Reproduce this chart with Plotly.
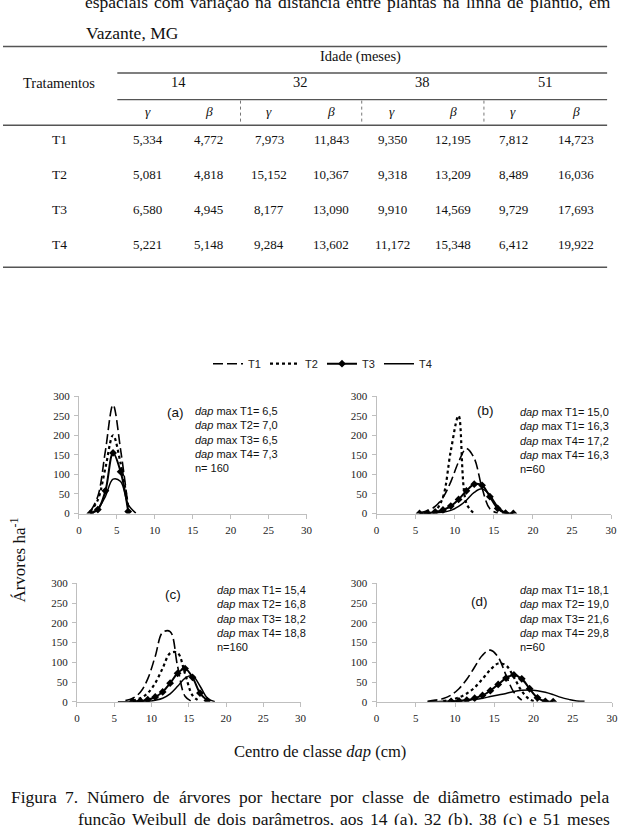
import unicodedata
import plotly.graph_objects as go

W, H = 621, 825

# ---------------- table data ----------------
ages = ["14", "32", "38", "51"]
treatments = ["T1", "T2", "T3", "T4"]
gamma_14 = [5.334, 5.081, 6.580, 5.221]
beta_14 = [4.772, 4.818, 4.945, 5.148]
gamma_32 = [7.973, 15.152, 8.177, 9.284]
beta_32 = [11.843, 10.367, 13.090, 13.602]
gamma_38 = [9.350, 9.318, 9.910, 11.172]
beta_38 = [12.195, 13.209, 14.569, 15.348]
gamma_51 = [7.812, 8.489, 9.729, 6.412]
beta_51 = [14.723, 16.036, 17.693, 19.922]

# ---------------- curve data (trees/ha per dbh class) ----------------
classes_a = [1.5, 2.5, 3.5, 4.5, 5.5, 6.5, 7.5]
a_T1 = [5, 44, 161, 278, 163, 16, None]
a_T2 = [5, 35, 117, 200, 128, 18, None]
a_T3 = [0, 10, 58, 155, 107, 5, None]
a_T4 = [1, 12, 44, 88, 82, 23, 1]

classes_b = [5.5, 6.5, 7.5, 8.5, 9.5, 10.5, 11.5, 12.5, 13.5, 14.5, 15.5, 16.5, 17.5]
b_T1 = [2, 7, 18, 41, 81, 132, 166, 141, 65, 12, 1, None, None]
b_T2 = [None, 1, 7, 42, 160, 250, 26, 0, None, None, None, None, None]
b_T3 = [0, 1, 4, 9, 19, 36, 58, 75, 72, 43, 13, 1, 0]
b_T4 = [0, 0, 1, 3, 8, 18, 34, 54, 63, 47, 18, 2, 0]

classes_c = [5.5, 6.5, 7.5, 8.5, 9.5, 10.5, 11.5, 12.5, 13.5, 14.5, 15.5, 16.5, 17.5, 18.5]
c_T1 = [None, 3, 9, 24, 58, 115, 176, 178, 90, 14, 0, None, None, None]
c_T2 = [None, None, 3, 9, 22, 47, 85, 123, 124, 71, 16, 1, None, None]
c_T3 = [None, None, 1, 2, 5, 12, 25, 47, 72, 84, 62, 22, 3, None]
c_T4 = [0, 0, 0, 0, 1, 4, 9, 20, 39, 60, 66, 40, 9, 0]

classes_d = [6.5, 7.5, 8.5, 9.5, 10.5, 11.5, 12.5, 13.5, 14.5, 15.5, 16.5,
             17.5, 18.5, 19.5, 20.5, 21.5, 22.5, 23.5, 24.5, 25.5, 26.5]
d_T1 = [1, 4, 8, 17, 33, 57, 88, 118, 131, 113, 67, 24, 4,
        None, None, None, None, None, None, None, None]
d_T2 = [None, None, 2, 5, 11, 21, 36, 58, 81, 97, 92, 62, 27, 6, 0,
        None, None, None, None, None, None]
d_T3 = [None, None, None, 1, 2, 4, 9, 16, 28, 44, 60, 68, 58, 33, 10, 1, 0,
        None, None, None, None]
d_T4 = [0, 0, 1, 1, 2, 4, 6, 9, 13, 17, 21, 26, 29, 30, 28, 24, 18, 11, 6, 2, 1]

panel_labels = ["(a)", "(b)", "(c)", "(d)"]
dapmax_a = ["T1= 6,5", "T2= 7,0", "T3= 6,5", "T4= 7,3"]
dapmax_b = ["T1= 15,0", "T1= 16,3", "T4= 17,2", "T4= 16,3"]
dapmax_c = ["T1= 15,4", "T2= 16,8", "T3= 18,2", "T4= 18,8"]
dapmax_d = ["T1= 18,1", "T2= 19,0", "T3= 21,6", "T4= 29,8"]
n_labels = ["n= 160", "n=60", "n=160", "n=60"]

# ---------------- helpers ----------------
def px(x):
    return x / W


def py(y):
    return 1 - y / H


SERIF = "Liberation Serif"
SANS = "Liberation Sans"
annotations = []
shapes = []


def ann(text, x, y, size, family=SERIF, xanchor="center", yanchor="middle", **kw):
    d = dict(text=text, x=px(x), y=py(y), xref="paper", yref="paper",
             xanchor=xanchor, yanchor=yanchor, showarrow=False,
             font=dict(family=family, size=size, color=kw.pop("color", "#111")))
    d.update(kw)
    annotations.append(d)


def hline(x0, x1, y, width=1.3, color="#555", dash="solid"):
    shapes.append(dict(type="line", xref="paper", yref="paper",
                       x0=px(x0), x1=px(x1), y0=py(y), y1=py(y),
                       line=dict(color=color, width=width, dash=dash)))


def vline(x, y0, y1, width=1, color="#777", dash="dot"):
    shapes.append(dict(type="line", xref="paper", yref="paper",
                       x0=px(x), x1=px(x), y0=py(y0), y1=py(y1),
                       line=dict(color=color, width=width, dash=dash)))


TW = {' ': 250, 'a': 444, 'b': 500, 'c': 444, 'd': 500, 'e': 444, 'f': 333, 'g': 500,
      'h': 500, 'i': 278, 'j': 278, 'k': 500, 'l': 278, 'm': 778, 'n': 500, 'o': 500,
      'p': 500, 'q': 500, 'r': 333, 's': 389, 't': 278, 'u': 500, 'v': 500, 'w': 722,
      'x': 500, 'y': 500, 'z': 444, ',': 250, '.': 250, '(': 333, ')': 333,
      'F': 556, 'N': 722, 'W': 944, 'V': 722, 'M': 889, 'G': 722}


def tw(word, size):
    s = 0
    for ch in word:
        base = unicodedata.normalize("NFD", ch)[0]
        if base.isdigit():
            s += 500
        else:
            s += TW.get(base, 500)
    return s * size / 1000.0


def justified(line, x0, x1, y, size):
    words = line.split()
    widths = [tw(w, size) for w in words]
    gap = (x1 - x0 - sum(widths)) / (len(words) - 1)
    x = x0
    for w, wd in zip(words, widths):
        ann(w, x, y, size, xanchor="left", borderpad=0)
        x += wd + gap


# ---------------- page text ----------------
justified("espaciais com variação na distância entre plantas na linha de plantio, em",
          82, 615, -4, 17.5)
ann("Vazante, MG", 82, 27, 17.5, xanchor="left")

# ---------------- table ----------------
col_x = [147, 209, 270, 333, 395, 457, 518, 581]
age_x = [178, 302, 426, 550]
row_y = [135, 171, 207, 242]
hline(0, 613, 41, 1.5)
hline(116, 613, 68, 1.3)
hline(116, 613, 95, 1.3)
hline(0, 613, 121, 1.5)
hline(0, 613, 265, 1.5)
for sx in [241, 364, 488]:
    vline(sx, 96, 120)

ann("Idade (meses)", 363, 51, 14.5)
ann("Tratamentos", 57, 78, 14.5)
for a, x in zip(ages, age_x):
    ann(a, x, 77, 14.5)
for i, x in enumerate(col_x):
    ann("<i>γ</i>" if i % 2 == 0 else "<i>β</i>", x, 107, 13.5)

cols = [gamma_14, beta_14, gamma_32, beta_32, gamma_38, beta_38, gamma_51, beta_51]
for r, (t, y) in enumerate(zip(treatments, row_y)):
    ann(t, 57, y, 13.5)
    for c, x in enumerate(col_x):
        ann(f"{cols[c][r]:.3f}".replace(".", ","), x, y, 13)

# ---------------- charts ----------------
fig = go.Figure()

styles = {
    "T1": dict(line=dict(color="black", width=1.6, dash="10px,4px"), mode="lines"),
    "T2": dict(line=dict(color="black", width=2.2, dash="dot"), mode="lines"),
    "T3": dict(line=dict(color="black", width=2), mode="lines+markers",
               marker=dict(symbol="diamond", size=6, color="black")),
    "T4": dict(line=dict(color="black", width=1.5), mode="lines"),
}

panels = [
    ("x", "y", classes_a, [a_T1, a_T2, a_T3, a_T4]),
    ("x2", "y2", classes_b, [b_T1, b_T2, b_T3, b_T4]),
    ("x3", "y3", classes_c, [c_T1, c_T2, c_T3, c_T4]),
    ("x4", "y4", classes_d, [d_T1, d_T2, d_T3, d_T4]),
]
for k, (xa, ya, xs, series) in enumerate(panels):
    for name, ys in zip(treatments, series):
        st = styles[name]
        fig.add_trace(go.Scatter(
            x=xs, y=ys, name=name, xaxis=xa, yaxis=ya,
            mode=st["mode"], line=dict(shape="spline", smoothing=1, **st["line"]),
            marker=st.get("marker"), showlegend=(k == 0), connectgaps=False,
            hoverinfo="skip"))

dom = {
    "a": ([77, 308], [396, 515]),
    "b": ([379, 617], [396, 515]),
    "c": ([75, 302], [586, 706]),
    "d": ([379, 618], [586, 706]),
}


def axes(xd, yd):
    ax = dict(range=[0, 30], dtick=5, tick0=0, showline=True, linecolor="#bfbfbf",
              linewidth=1, ticks="outside", ticklen=4, tickcolor="#bfbfbf",
              showgrid=False, zeroline=False, domain=[px(xd[0]), px(xd[1])],
              tickfont=dict(family=SERIF, size=11, color="#222"), ticklabelstandoff=2)
    ay = dict(range=[0, 300], dtick=50, tick0=0, showline=True, linecolor="#bfbfbf",
              linewidth=1, ticks="outside", ticklen=4, tickcolor="#bfbfbf",
              showgrid=False, zeroline=False, domain=[py(yd[1]), py(yd[0])],
              tickfont=dict(family=SERIF, size=11, color="#222"), ticklabelstandoff=2)
    return ax, ay


layout_axes = {}
for i, key in enumerate(["a", "b", "c", "d"]):
    ax, ay = axes(*dom[key])
    sfx = "" if i == 0 else str(i + 1)
    ax["anchor"] = "y" + sfx
    ay["anchor"] = "x" + sfx
    layout_axes["xaxis" + sfx] = ax
    layout_axes["yaxis" + sfx] = ay

# panel texts
label_pos = [(175, 413), (490, 410), (173, 597), (484, 604)]
text_pos = [(193, 403), (523, 404), (215, 584), (523, 584)]
dapmax_all = [dapmax_a, dapmax_b, dapmax_c, dapmax_d]
for i in range(4):
    ann(panel_labels[i], *label_pos[i], 13.5, family=SANS)
    lines = [f"<i>dap</i> max {s}" for s in dapmax_all[i]] + [n_labels[i]]
    ann("<br>".join(lines), text_pos[i][0], text_pos[i][1], 11, family=SANS,
        xanchor="left", yanchor="top", align="left")

ann("Árvores ha<sup>-1</sup>", 15, 562, 17, textangle=-90)
ann("Centro de classe <i>dap</i> (cm)", 322, 757, 16.5)

# caption
justified("Figura 7.  Número de árvores por hectare por classe de diâmetro estimado pela",
          7, 614, 803, 17.5)
justified("função Weibull de dois parâmetros, aos 14 (a), 32 (b), 38 (c) e 51 meses",
          75, 614, 825, 17.5)

fig.update_layout(
    width=W, height=H, margin=dict(l=0, r=0, t=0, b=0),
    paper_bgcolor="white", plot_bgcolor="white",
    annotations=annotations, shapes=shapes,
    legend=dict(orientation="h", x=px(208), y=py(363), xanchor="left", yanchor="middle",
                entrywidth=12, entrywidthmode="pixels", itemwidth=30,
                font=dict(family=SANS, size=11, color="#222"),
                bgcolor="rgba(0,0,0,0)", borderwidth=0),
    **layout_axes,
)

fig.write_html(
    "out.html",
    config={"displayModeBar": False},
    post_script="document.body.style.margin='0';document.body.style.overflow='hidden';",
)
